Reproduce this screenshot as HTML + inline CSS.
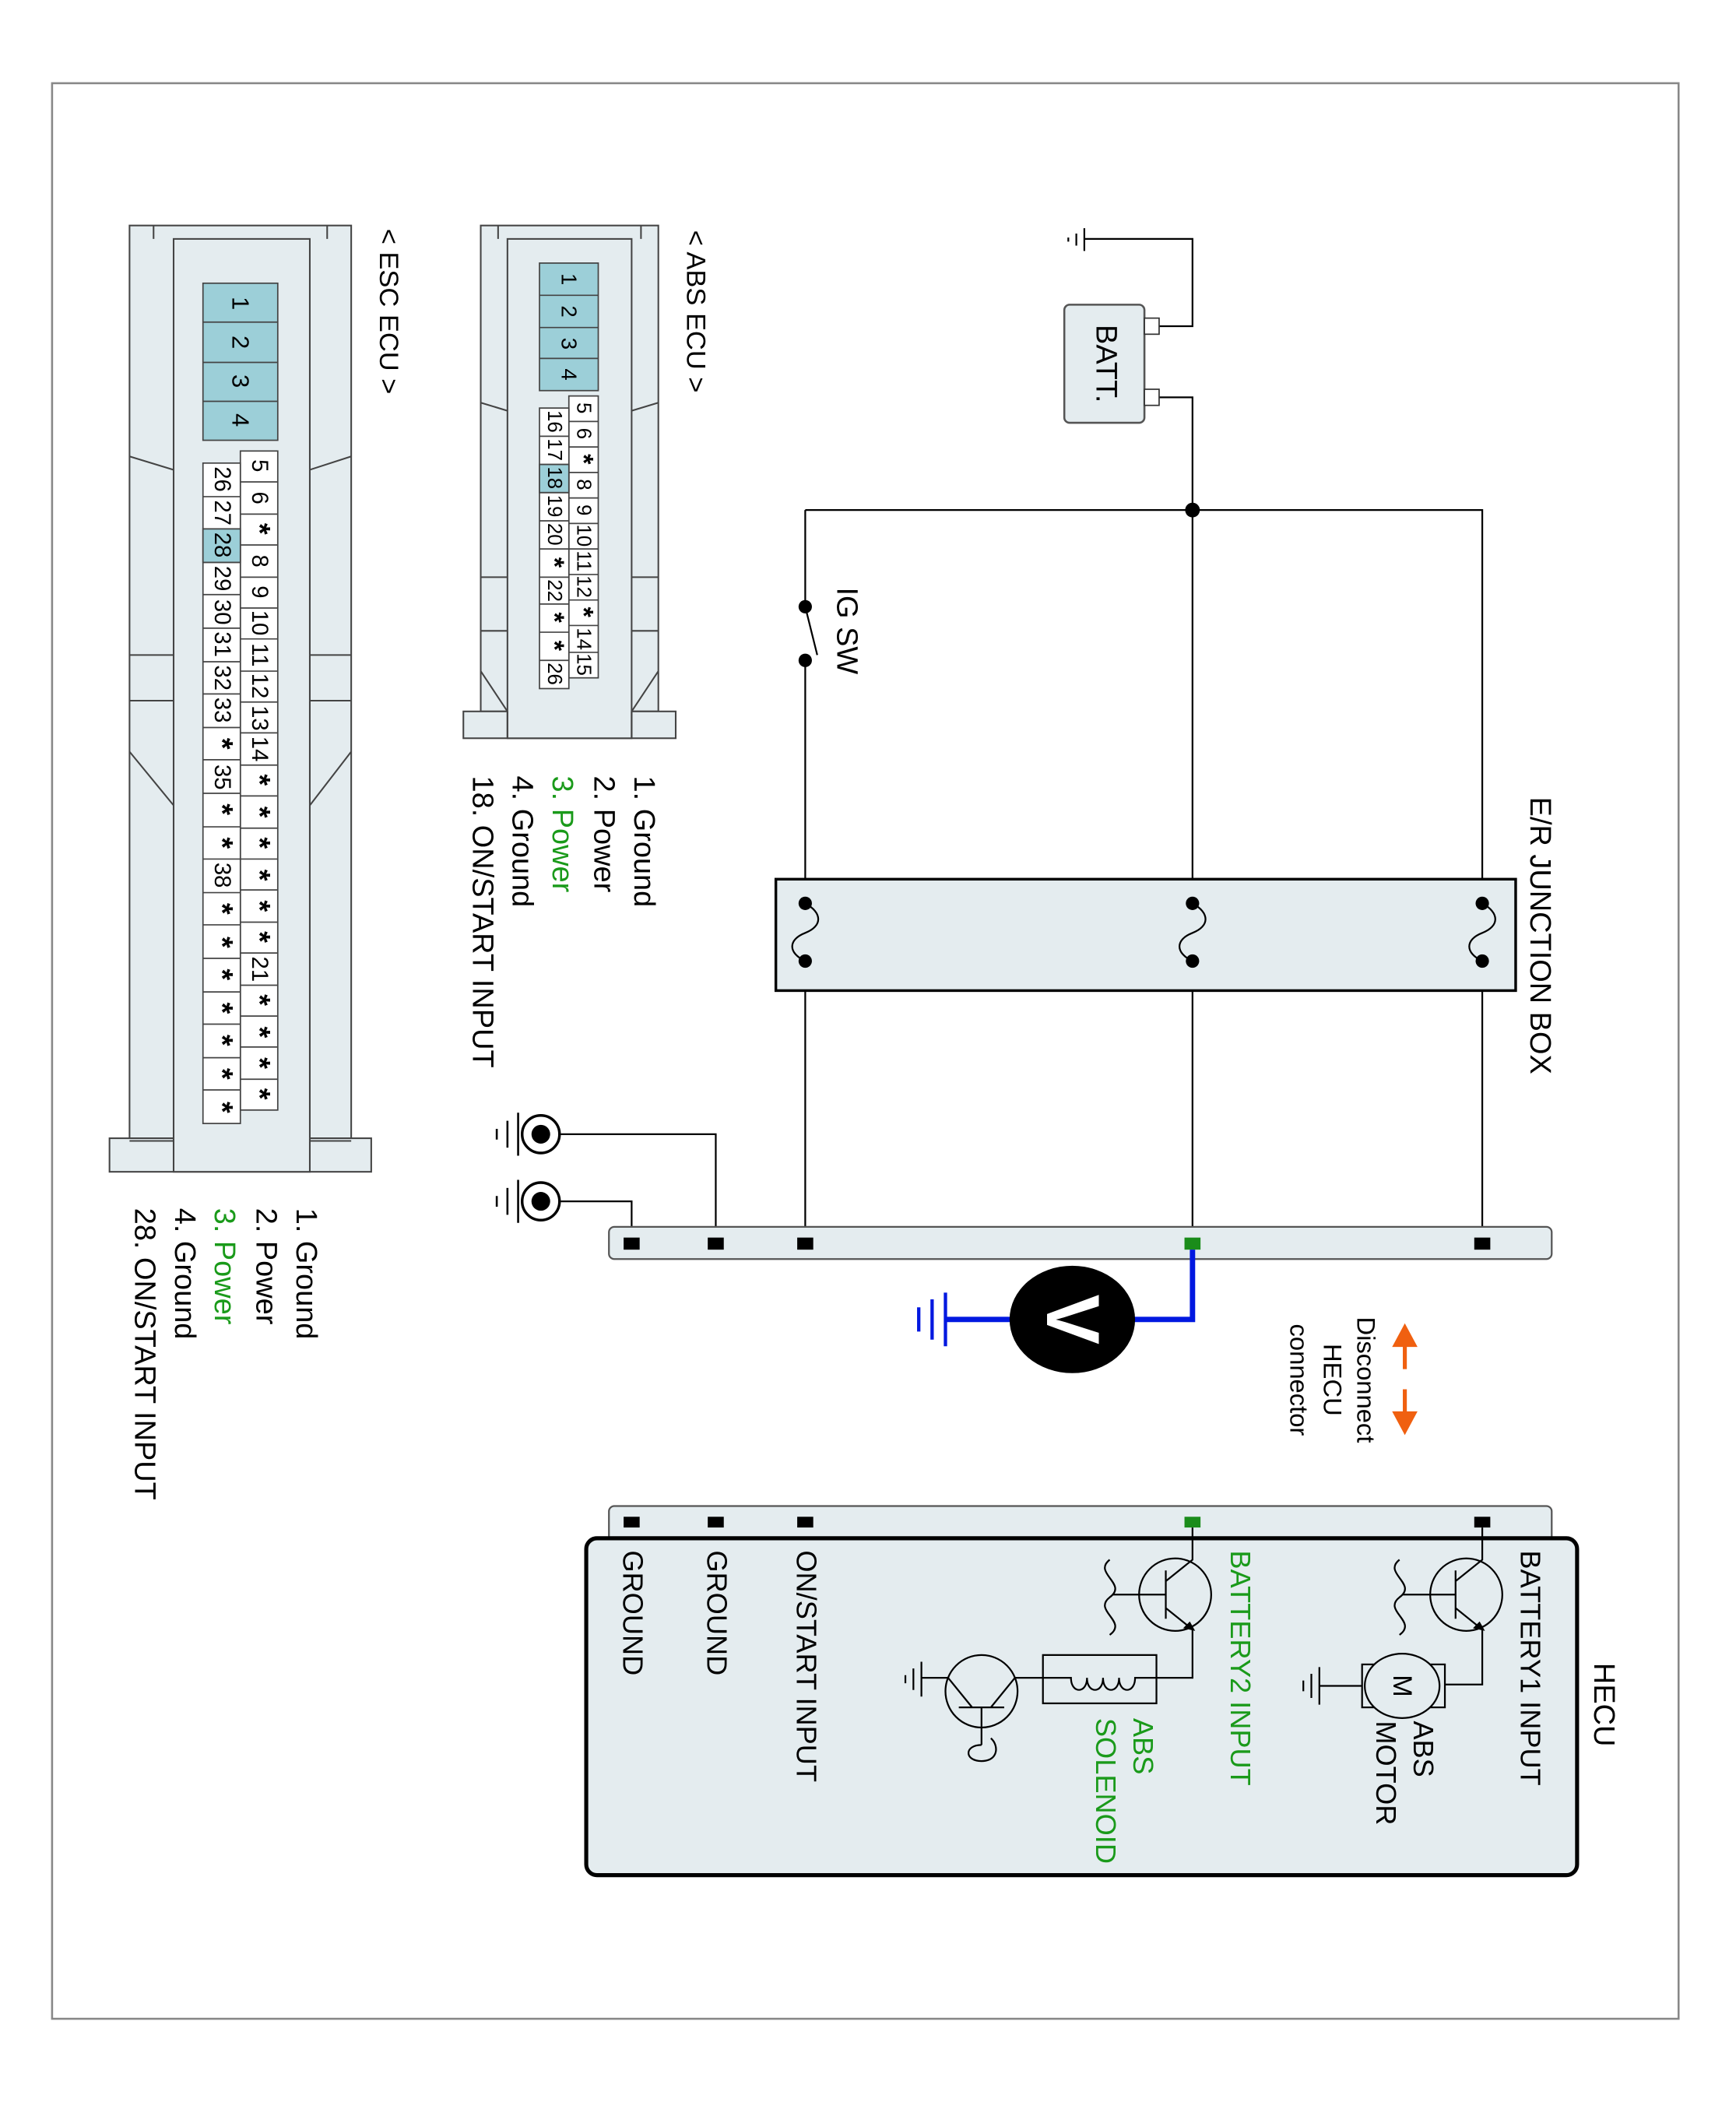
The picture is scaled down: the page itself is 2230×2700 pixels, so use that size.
<!DOCTYPE html>
<html><head><meta charset="utf-8"><style>
html,body{margin:0;padding:0;background:#fff;}
svg{display:block;}
text{font-family:"Liberation Sans",sans-serif;}
</style></head><body>
<svg width="2230" height="2700" viewBox="0 0 1300 1566" preserveAspectRatio="none" xmlns="http://www.w3.org/2000/svg">
<rect x="39" y="62" width="1218" height="1442" fill="none" stroke="#888" stroke-width="1.5"/>

<g stroke="#000" stroke-width="1.3" fill="none">
<path d="M812 178 H893 V243 H868"/>
<path d="M812 170 V187 M806 174 V183 M800 177 V180"/>
<path d="M868 296 H893 V926"/>
<path d="M603 380 H1110 V926"/>
<path d="M603 380 V452 M603 492 V926"/>
<path d="M603 452 L612 488"/>
<path d="M420 845 H536 V926"/>
<path d="M420 895 H473 V926"/>
</g>
<rect x="797" y="227" width="60" height="88" rx="4" fill="#e4ecef" stroke="#555" stroke-width="1.5"/>
<rect x="857" y="237" width="11" height="12" fill="#fff" stroke="#333"/>
<rect x="857" y="290" width="11" height="12" fill="#fff" stroke="#333"/>
<text transform="translate(828,271) rotate(90)" font-size="22" text-anchor="middle" dominant-baseline="central">BATT.</text>
<circle cx="893" cy="380" r="5.5"/>
<circle cx="603" cy="452" r="5"/><circle cx="603" cy="492" r="5"/>
<text transform="translate(634,470) rotate(90)" font-size="22" text-anchor="middle" dominant-baseline="central">IG SW</text>

<rect x="581" y="655" width="554" height="83" fill="#e4ecef" stroke="#000" stroke-width="2"/>
<g stroke="#000" stroke-width="1.3" fill="none">
<path d="M603 673 C616 680 616 690 603 695 C590 700 590 710 603 716"/>
<path d="M893 673 C906 680 906 690 893 695 C880 700 880 710 893 716"/>
<path d="M1110 673 C1123 680 1123 690 1110 695 C1097 700 1097 710 1110 716"/>
</g>
<g fill="#000"><circle cx="603" cy="673" r="5"/><circle cx="603" cy="716" r="5"/><circle cx="893" cy="673" r="5"/><circle cx="893" cy="716" r="5"/><circle cx="1110" cy="673" r="5"/><circle cx="1110" cy="716" r="5"/></g>
<text transform="translate(1153,697) rotate(90)" font-size="22" text-anchor="middle" dominant-baseline="central">E/R JUNCTION BOX</text>

<g stroke="#000" fill="none" stroke-width="2">
<circle cx="405" cy="845" r="14"/><circle cx="405" cy="895" r="14"/>
<path d="M388 829 V861 M380 835 V855 M372 841 V849" stroke-width="1.5"/>
<path d="M388 879 V911 M380 885 V905 M372 891 V899" stroke-width="1.5"/>
</g>
<circle cx="405" cy="845" r="7"/><circle cx="405" cy="895" r="7"/>

<rect x="456" y="914" width="706" height="24" rx="4" fill="#e4ecef" stroke="#555" stroke-width="1.3"/>
<g fill="#000"><rect x="467" y="922" width="12" height="9"/><rect x="530" y="922" width="12" height="9"/><rect x="597" y="922" width="12" height="9"/><rect x="1104" y="922" width="12" height="9"/></g>
<rect x="887" y="922" width="12" height="9" fill="#1a8c1a"/>

<g stroke="#0018e0" stroke-width="4" fill="none">
<path d="M893 931 V983 H845"/><path d="M760 983 H708"/>
</g>
<path d="M708 963 V1003 M698 968 V998 M688 974 V992" stroke="#0018e0" stroke-width="2.5"/>
<ellipse cx="803" cy="983" rx="47" ry="40" fill="#000"/>
<text transform="translate(803,983) rotate(90)" font-size="56" font-weight="bold" fill="#fff" text-anchor="middle" dominant-baseline="central">V</text>

<g stroke="#f06010" stroke-width="3" fill="#f06010">
<path d="M1052 1000 V1020 M1052 1035 V1055" fill="none"/>
<path d="M1045 1002 L1052 989 L1059 1002 Z"/>
<path d="M1045 1053 L1052 1066 L1059 1053 Z"/>
</g>
<g font-size="19" dominant-baseline="central" text-anchor="middle">
<text transform="translate(1023,1028) rotate(90)">Disconnect</text>
<text transform="translate(998,1028) rotate(90)">HECU</text>
<text transform="translate(973,1028) rotate(90)">connector</text>
</g>

<rect x="456" y="1122" width="706" height="30" rx="4" fill="#e4ecef" stroke="#555" stroke-width="1.3"/>
<rect x="439" y="1146" width="742" height="251" rx="8" fill="#e4ecef" stroke="#000" stroke-width="3"/>
<g fill="#000"><rect x="467" y="1130" width="12" height="8"/><rect x="530" y="1130" width="12" height="8"/><rect x="597" y="1130" width="12" height="8"/><rect x="1104" y="1130" width="12" height="8"/></g>
<rect x="887" y="1130" width="12" height="8" fill="#1a8c1a"/>
<text transform="translate(1201,1270) rotate(90)" font-size="22" text-anchor="middle" dominant-baseline="central">HECU</text>
<g font-size="21" dominant-baseline="central">
<text transform="translate(1146,1155) rotate(90)">BATTERY1 INPUT</text>
<text transform="translate(929,1155) rotate(90)" fill="#1a9a1a">BATTERY2 INPUT</text>
<text transform="translate(604,1155) rotate(90)">ON/START INPUT</text>
<text transform="translate(537,1155) rotate(90)">GROUND</text>
<text transform="translate(474,1155) rotate(90)">GROUND</text>
<text transform="translate(1066,1282) rotate(90)">ABS</text>
<text transform="translate(1038,1282) rotate(90)">MOTOR</text>
<text transform="translate(856,1280) rotate(90)" fill="#1a9a1a">ABS</text>
<text transform="translate(828,1280) rotate(90)" fill="#1a9a1a">SOLENOID</text>
</g>
<g stroke="#000" stroke-width="1.3" fill="none">
<path d="M1110 1138 V1162 L1090 1178 M1090 1170 V1206 M1090 1188 H1050 M1090 1198 L1110 1214 V1255 H1082"/>
<circle cx="1098" cy="1188" r="27"/>
<path d="M1048 1162 C1035 1172 1062 1180 1048 1190 C1035 1200 1062 1208 1048 1218"/>
<path d="M893 1138 V1162 L873 1178 M873 1170 V1206 M873 1188 H833 M873 1198 L893 1214 V1250 H866"/>
<circle cx="880" cy="1188" r="27"/>
<path d="M831 1162 C818 1172 845 1180 831 1190 C818 1200 845 1208 831 1218"/>
<rect x="1020" y="1240" width="62" height="32"/>
<ellipse cx="1050" cy="1256" rx="28" ry="24" fill="#e4ecef"/>
<path d="M1020 1256 H988 M988 1242 V1270 M982 1247 V1265 M976 1252 V1260"/>
<rect x="781" y="1233" width="85" height="36"/>
<path d="M866 1250 H850 C850 1262 838 1262 838 1250 C838 1262 826 1262 826 1250 C826 1262 814 1262 814 1250 C814 1262 802 1262 802 1250 H760"/>
<circle cx="735" cy="1260" r="27"/>
<path d="M760 1250 L742 1272 M710 1250 L728 1272 M718 1272 H752 M735 1272 V1300 M710 1250 H690 M690 1238 V1264 M684 1243 V1259 M678 1248 V1254"/>
<path d="M735 1300 C722 1300 722 1312 735 1312 C748 1312 748 1300 742 1295"/>
</g>
<g fill="#000"><path d="M1108 1208 L1112 1215 L1103 1213 Z"/><path d="M891 1208 L895 1215 L886 1213 Z"/></g>
<text transform="translate(1050,1256) rotate(90)" font-size="20" text-anchor="middle" dominant-baseline="central">M</text>

<g stroke="#444" stroke-width="1.2" fill="#e4ecef">
<rect x="360" y="168" width="133" height="362"/>
<rect x="347" y="530" width="159" height="20"/>
<rect x="380" y="178" width="93" height="372" fill="#e4ecef"/>
</g>
<g stroke="#444" stroke-width="1.2" fill="none">
<path d="M373 168 V178 M480 168 V178"/>
<path d="M360 300 L380 306 M493 300 L473 306 M360 430 H380 M493 430 H473 M360 470 H380 M493 470 H473 M360 500 L380 530 M493 500 L473 530 M380 530 V550 M473 530 V550"/>
</g>
<text transform="translate(521,232) rotate(90)" font-size="20" text-anchor="middle" dominant-baseline="central">&lt; ABS ECU &gt;</text>
<rect x="404" y="196" width="44" height="95" fill="#9ccfd8" stroke="#444" stroke-width="1"/>
<g stroke="#444" stroke-width="1" fill="none"><path d="M404 220 H448 M404 244 H448 M404 267 H448"/></g>
<g font-size="16" text-anchor="middle" dominant-baseline="central">
<text transform="translate(426,208) rotate(90)">1</text><text transform="translate(426,232) rotate(90)">2</text><text transform="translate(426,256) rotate(90)">3</text><text transform="translate(426,279) rotate(90)">4</text>
</g>
<g stroke="#444" stroke-width="1" fill="#fff">
<rect x="426" y="295" width="22" height="210"/><rect x="404" y="304" width="22" height="209"/>
<rect x="404" y="346" width="22" height="21" fill="#9ccfd8"/>
<path d="M426 314 H448 M426 333 H448 M426 352 H448 M426 371 H448 M426 390 H448 M426 409 H448 M426 428 H448 M426 447 H448 M426 466 H448 M426 486 H448" fill="none"/>
<path d="M404 325 H426 M404 346 H426 M404 367 H426 M404 388 H426 M404 409 H426 M404 430 H426 M404 450 H426 M404 471 H426 M404 492 H426" fill="none"/>
</g>
<g font-size="15" text-anchor="middle" dominant-baseline="central">
<text transform="translate(437,304) rotate(90)">5</text><text transform="translate(437,323) rotate(90)">6</text><text transform="translate(437,342) rotate(90)" font-weight="bold" font-size="20">*</text><text transform="translate(437,361) rotate(90)">8</text><text transform="translate(437,380) rotate(90)">9</text><text transform="translate(437,399) rotate(90)">10</text><text transform="translate(437,418) rotate(90)">11</text><text transform="translate(437,437) rotate(90)">12</text><text transform="translate(437,456) rotate(90)" font-weight="bold" font-size="20">*</text><text transform="translate(437,476) rotate(90)">14</text><text transform="translate(437,495) rotate(90)">15</text>
<text transform="translate(415,314) rotate(90)">16</text><text transform="translate(415,335) rotate(90)">17</text><text transform="translate(415,356) rotate(90)">18</text><text transform="translate(415,377) rotate(90)">19</text><text transform="translate(415,398) rotate(90)">20</text><text transform="translate(415,419) rotate(90)" font-weight="bold" font-size="20">*</text><text transform="translate(415,440) rotate(90)">22</text><text transform="translate(415,460) rotate(90)" font-weight="bold" font-size="20">*</text><text transform="translate(415,481) rotate(90)" font-weight="bold" font-size="20">*</text><text transform="translate(415,502) rotate(90)">26</text>
</g>
<g font-size="22" dominant-baseline="central">
<text transform="translate(482,578) rotate(90)">1. Ground</text>
<text transform="translate(452,578) rotate(90)">2. Power</text>
<text transform="translate(421,578) rotate(90)" fill="#1a9a1a">3. Power</text>
<text transform="translate(391,578) rotate(90)">4. Ground</text>
<text transform="translate(361,578) rotate(90)">18. ON/START INPUT</text>
</g>

<g stroke="#444" stroke-width="1.2" fill="#e4ecef">
<rect x="97" y="168" width="166" height="680"/>
<rect x="82" y="848" width="196" height="25"/>
<rect x="130" y="178" width="102" height="695"/>
</g>
<g stroke="#444" stroke-width="1.2" fill="none">
<path d="M115 168 V178 M245 168 V178"/>
<path d="M97 340 L130 350 M263 340 L232 350 M97 488 H130 M263 488 H232 M97 522 H130 M263 522 H232 M97 560 L130 600 M263 560 L232 600 M97 850 H130 M232 850 H263"/>
</g>
<text transform="translate(291,232) rotate(90)" font-size="20" text-anchor="middle" dominant-baseline="central">&lt; ESC ECU &gt;</text>
<rect x="152" y="211" width="56" height="117" fill="#9ccfd8" stroke="#444" stroke-width="1"/>
<path d="M152 240 H208 M152 270 H208 M152 299 H208" stroke="#444" fill="none"/>
<g font-size="18" text-anchor="middle" dominant-baseline="central">
<text transform="translate(180,226) rotate(90)">1</text><text transform="translate(180,255) rotate(90)">2</text><text transform="translate(180,284) rotate(90)">3</text><text transform="translate(180,313) rotate(90)">4</text>
</g>
<g stroke="#444" stroke-width="1" fill="#fff">
<rect x="180" y="336" width="28" height="491"/><rect x="152" y="345" width="28" height="492"/>
<rect x="152" y="394" width="28" height="25" fill="#9ccfd8"/>
<path fill="none" d="M180 359 H208 M180 383 H208 M180 406 H208 M180 430 H208 M180 453 H208 M180 476 H208 M180 500 H208 M180 523 H208 M180 546 H208 M180 570 H208 M180 593 H208 M180 617 H208 M180 640 H208 M180 663 H208 M180 687 H208 M180 710 H208 M180 734 H208 M180 757 H208 M180 780 H208 M180 804 H208"/>
<path fill="none" d="M152 370 H180 M152 394 H180 M152 419 H180 M152 443 H180 M152 468 H180 M152 493 H180 M152 517 H180 M152 542 H180 M152 566 H180 M152 591 H180 M152 616 H180 M152 640 H180 M152 665 H180 M152 689 H180 M152 714 H180 M152 739 H180 M152 763 H180 M152 788 H180 M152 812 H180"/>
</g>
<g font-size="17" text-anchor="middle" dominant-baseline="central">
<g font-weight="bold" font-size="22">
<text transform="translate(194,394) rotate(90)">*</text><text transform="translate(194,581) rotate(90)">*</text><text transform="translate(194,605) rotate(90)">*</text><text transform="translate(194,628) rotate(90)">*</text><text transform="translate(194,652) rotate(90)">*</text><text transform="translate(194,675) rotate(90)">*</text><text transform="translate(194,698) rotate(90)">*</text><text transform="translate(194,745) rotate(90)">*</text><text transform="translate(194,769) rotate(90)">*</text><text transform="translate(194,792) rotate(90)">*</text><text transform="translate(194,815) rotate(90)">*</text>
<text transform="translate(166,554) rotate(90)">*</text><text transform="translate(166,603) rotate(90)">*</text><text transform="translate(166,628) rotate(90)">*</text><text transform="translate(166,677) rotate(90)">*</text><text transform="translate(166,702) rotate(90)">*</text><text transform="translate(166,726) rotate(90)">*</text><text transform="translate(166,751) rotate(90)">*</text><text transform="translate(166,775) rotate(90)">*</text><text transform="translate(166,800) rotate(90)">*</text><text transform="translate(166,825) rotate(90)">*</text>
</g>
<text transform="translate(194,347) rotate(90)">5</text><text transform="translate(194,371) rotate(90)">6</text><text transform="translate(194,418) rotate(90)">8</text><text transform="translate(194,441) rotate(90)">9</text><text transform="translate(194,464) rotate(90)">10</text><text transform="translate(194,488) rotate(90)">11</text><text transform="translate(194,511) rotate(90)">12</text><text transform="translate(194,535) rotate(90)">13</text><text transform="translate(194,558) rotate(90)">14</text><text transform="translate(194,722) rotate(90)">21</text>
<text transform="translate(166,357) rotate(90)">26</text><text transform="translate(166,382) rotate(90)">27</text><text transform="translate(166,406) rotate(90)">28</text><text transform="translate(166,431) rotate(90)">29</text><text transform="translate(166,456) rotate(90)">30</text><text transform="translate(166,480) rotate(90)">31</text><text transform="translate(166,505) rotate(90)">32</text><text transform="translate(166,529) rotate(90)">33</text><text transform="translate(166,579) rotate(90)">35</text><text transform="translate(166,652) rotate(90)">38</text>
</g>
<g font-size="22" dominant-baseline="central">
<text transform="translate(229,900) rotate(90)">1. Ground</text>
<text transform="translate(199,900) rotate(90)">2. Power</text>
<text transform="translate(168,900) rotate(90)" fill="#1a9a1a">3. Power</text>
<text transform="translate(138,900) rotate(90)">4. Ground</text>
<text transform="translate(108,900) rotate(90)">28. ON/START INPUT</text>
</g>
</svg>
</body></html>
